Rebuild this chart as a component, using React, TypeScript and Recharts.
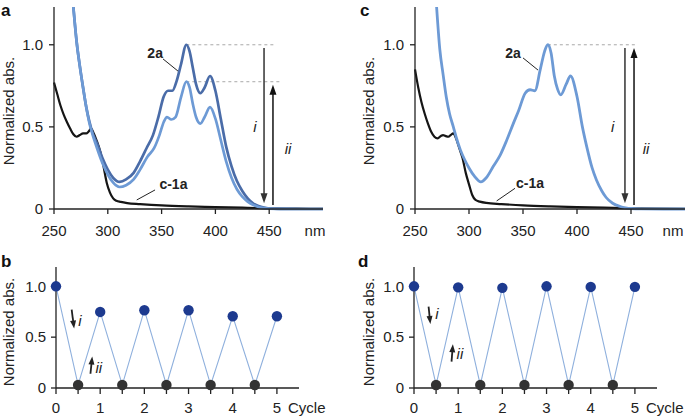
import { LineChart, Line, XAxis, YAxis, ReferenceLine, ReferenceDot } from "recharts";

const FONT = '"Liberation Sans", Arial, Helvetica, sans-serif';
const INK = "#222";
const DARK_BLUE = "#4a6ca8";
const LIGHT_BLUE = "#6d9ad5";
const BLACK = "#151515";

// ---- spectra, panel a ----
const c1aNmA = [250, 253, 256, 259, 262, 265, 268, 271, 274, 277, 280, 282, 284.5, 287, 290, 293, 296, 299, 302, 305, 308, 312, 318, 330, 350, 375, 400, 425, 450, 475, 500];
const c1aAbsA = [0.77, 0.7, 0.63, 0.575, 0.53, 0.49, 0.455, 0.44, 0.45, 0.46, 0.46, 0.47, 0.49, 0.46, 0.41, 0.35, 0.26, 0.16, 0.1, 0.065, 0.05, 0.043, 0.036, 0.03, 0.022, 0.016, 0.012, 0.008, 0.004, 0.002, 0.001];

const twoANmA = [268, 271, 274, 277, 280, 283, 286, 290, 295, 300, 305, 311, 317, 324, 330, 336, 342, 347, 352, 356, 360, 364, 368, 373, 376, 379, 382, 386, 390, 395, 400, 405, 410, 415, 420, 425, 430, 435, 440, 445, 450, 460, 480, 500];
const twoAAbsA = [1.23, 1.02, 0.87, 0.74, 0.62, 0.53, 0.46, 0.4, 0.31, 0.24, 0.19, 0.165, 0.18, 0.22, 0.29, 0.37, 0.45, 0.56, 0.685, 0.72, 0.72, 0.78, 0.88, 1.0, 0.96, 0.86, 0.76, 0.705, 0.74, 0.81, 0.72, 0.55, 0.38, 0.26, 0.17, 0.11, 0.065, 0.035, 0.018, 0.008, 0.003, 0.001, 0, 0];

const pssNmA = [268, 271, 274, 277, 280, 283, 286, 290, 295, 300, 305, 311, 317, 324, 330, 337, 343, 348, 352, 355, 359, 363, 368, 373, 376, 379, 382, 386, 390, 395, 400, 405, 410, 415, 420, 425, 430, 435, 440, 445, 450, 460, 480, 500];
const pssAbsA = [1.23, 1.02, 0.87, 0.74, 0.62, 0.52, 0.45, 0.37, 0.28, 0.21, 0.16, 0.134, 0.145, 0.18, 0.24, 0.32, 0.37, 0.45, 0.53, 0.56, 0.545, 0.56, 0.68, 0.775, 0.74, 0.64, 0.56, 0.52, 0.56, 0.62, 0.55, 0.42, 0.29, 0.19, 0.12, 0.075, 0.045, 0.025, 0.012, 0.005, 0.002, 0.001, 0, 0];

// ---- spectra, panel c ----
const c1aNmC = [250, 253, 256, 259, 262, 265, 268, 271, 274, 276, 278, 281, 283, 285.5, 288, 291, 294, 297, 300, 303, 306, 310, 316, 330, 350, 375, 400, 425, 450, 475, 500];
const c1aAbsC = [0.85, 0.74, 0.65, 0.58, 0.52, 0.47, 0.44, 0.43, 0.445, 0.45, 0.445, 0.44, 0.45, 0.46, 0.43, 0.37, 0.31, 0.22, 0.15, 0.085, 0.055, 0.045, 0.037, 0.03, 0.022, 0.016, 0.012, 0.008, 0.004, 0.002, 0.001];

const twoANmC = [270, 273, 276, 279, 282, 285.5, 288, 292, 296, 300, 305, 311, 316, 322.5, 329, 335, 341, 346, 352, 356.5, 361, 366, 370, 373, 376, 379, 382, 385, 390, 394, 400, 405, 409, 414, 418, 423, 427, 433, 440, 445, 450, 460, 480, 500];
const twoAAbsC = [1.23, 0.97, 0.82, 0.68, 0.58, 0.5, 0.44, 0.36, 0.3, 0.25, 0.2, 0.165, 0.19, 0.26, 0.33, 0.42, 0.52, 0.6, 0.705, 0.726, 0.72, 0.85, 0.96, 1.0, 0.95, 0.81, 0.73, 0.695, 0.76, 0.81, 0.685, 0.5, 0.38, 0.25, 0.177, 0.11, 0.07, 0.035, 0.015, 0.007, 0.003, 0.001, 0, 0];

const nmTicks = [250, 300, 350, 400, 450];
const absTicks = [0, 0.5, 1];

// ---- cycling, panels b and d ----
const cycles = [0, 0.5, 1, 1.5, 2, 2.5, 3, 3.5, 4, 4.5, 5];
const absCycleB = [1.0, 0.03, 0.748, 0.03, 0.765, 0.03, 0.765, 0.03, 0.706, 0.03, 0.706];
const absCycleD = [1.0, 0.03, 0.99, 0.03, 0.985, 0.03, 1.0, 0.03, 0.994, 0.03, 0.995];

const zip = (xs: number[], ys: number[]) => xs.map((nm, i) => ({ nm, v: ys[i] }));

const fmtAbs = (v: number) => (v === 0 ? "0" : v.toFixed(1));
const fmtCycle = (v: number) => (Number.isInteger(v) ? String(v) : "");

const axisLine = { stroke: INK, strokeWidth: 1.3 };
const tickStyle = { fill: INK, fontSize: 15, fontFamily: FONT };

function arrowShape(color: string, head = 10, half = 3.5, width = 1.5) {
  return (p: any) => {
    const { x1, y1, x2, y2 } = p;
    const len = Math.hypot(x2 - x1, y2 - y1) || 1;
    const ux = (x2 - x1) / len;
    const uy = (y2 - y1) / len;
    const bx = x2 - ux * head;
    const by = y2 - uy * head;
    return (
      <g>
        <line x1={x1} y1={y1} x2={x2 - ux * (head - 1)} y2={y2 - uy * (head - 1)} stroke={color} strokeWidth={width} />
        <polygon points={`${x2},${y2} ${bx - uy * half},${by + ux * half} ${bx + uy * half},${by - ux * half}`} fill={color} />
      </g>
    );
  };
}

function textShape(text: string, bold = false, italic = false, size = 15) {
  return (p: any) => (
    <text
      x={p.cx}
      y={p.cy}
      textAnchor="middle"
      dominantBaseline="central"
      fontFamily={FONT}
      fontSize={size}
      fontWeight={bold ? 700 : 400}
      fontStyle={italic ? "italic" : "normal"}
      fill={INK}
    >
      {text}
    </text>
  );
}

type Arrow = { x1: number; y1: number; x2: number; y2: number; color: string };
type Note = { x: number; y: number; text: string; bold?: boolean; italic?: boolean; size?: number };
type Seg = { x1: number; y1: number; x2: number; y2: number };

function SpectrumChart({
  axisW,
  right,
  series,
  arrows,
  dashes,
  leaders,
  notes,
}: {
  axisW: number;
  right: number;
  series: { data: { nm: number; v: number }[]; color: string; width: number }[];
  arrows: Arrow[];
  dashes: Seg[];
  leaders: Seg[];
  notes: Note[];
}) {
  return (
    <LineChart width={345} height={240} margin={{ top: 7, right, bottom: 0, left: 0 }}>
      <XAxis
        type="number"
        dataKey="nm"
        domain={[250, 500]}
        ticks={nmTicks}
        interval={0}
        height={31}
        tickSize={5}
        tickMargin={11}
        axisLine={axisLine}
        tickLine={axisLine}
        tick={tickStyle}
      />
      <YAxis
        type="number"
        domain={[0, 1.23]}
        ticks={absTicks}
        tickFormatter={fmtAbs}
        width={axisW}
        tickSize={5}
        tickMargin={6}
        axisLine={axisLine}
        tickLine={axisLine}
        tick={tickStyle}
      />
      {dashes.map((d, i) => (
        <ReferenceLine
          key={`dash-${i}`}
          segment={[{ x: d.x1, y: d.y1 }, { x: d.x2, y: d.y2 }]}
          stroke="#a8a8a8"
          strokeWidth={1}
          strokeDasharray="3 3"
        />
      ))}
      {series.map((s, i) => (
        <Line
          key={`s-${i}`}
          data={s.data}
          dataKey="v"
          type="monotone"
          stroke={s.color}
          strokeWidth={s.width}
          dot={false}
          isAnimationActive={false}
        />
      ))}
      {arrows.map((a, i) => (
        <ReferenceLine
          key={`arr-${i}`}
          segment={[{ x: a.x1, y: a.y1 }, { x: a.x2, y: a.y2 }]}
          shape={arrowShape(a.color)}
        />
      ))}
      {leaders.map((d, i) => (
        <ReferenceLine
          key={`lead-${i}`}
          segment={[{ x: d.x1, y: d.y1 }, { x: d.x2, y: d.y2 }]}
          stroke={INK}
          strokeWidth={1}
        />
      ))}
      {notes.map((n, i) => (
        <ReferenceDot key={`note-${i}`} x={n.x} y={n.y} r={1} shape={textShape(n.text, n.bold, n.italic, n.size)} />
      ))}
    </LineChart>
  );
}

function CycleChart({
  axisW,
  right,
  values,
  arrows,
  notes,
}: {
  axisW: number;
  right: number;
  values: number[];
  arrows: Arrow[];
  notes: Note[];
}) {
  const data = cycles.map((cycle, i) => ({ cycle, v: values[i] }));
  const renderDot = (p: any) => (
    <circle
      key={`dot-${p.index}`}
      cx={p.cx}
      cy={p.cy}
      r={5.2}
      fill={p.value > 0.5 ? "#1d3a8f" : "#333333"}
    />
  );
  return (
    <LineChart width={345} height={186} data={data} margin={{ top: 37, right, bottom: 0, left: 0 }}>
      <XAxis
        type="number"
        dataKey="cycle"
        domain={[0, 5.5]}
        ticks={cycles}
        interval={0}
        tickFormatter={fmtCycle}
        height={28}
        tickSize={6}
        tickMargin={8}
        axisLine={axisLine}
        tickLine={axisLine}
        tick={tickStyle}
      />
      <YAxis
        type="number"
        domain={[0, 1.19]}
        ticks={absTicks}
        tickFormatter={fmtAbs}
        width={axisW}
        tickSize={5}
        tickMargin={5}
        axisLine={axisLine}
        tickLine={axisLine}
        tick={tickStyle}
      />
      <Line
        dataKey="v"
        type="linear"
        stroke="#8fb0dd"
        strokeWidth={1.1}
        dot={renderDot}
        isAnimationActive={false}
      />
      {arrows.map((a, i) => (
        <ReferenceLine
          key={`arr-${i}`}
          segment={[{ x: a.x1, y: a.y1 }, { x: a.x2, y: a.y2 }]}
          shape={arrowShape(a.color, 8, 3, 1.8)}
        />
      ))}
      {notes.map((n, i) => (
        <ReferenceDot key={`note-${i}`} x={n.x} y={n.y} r={1} shape={textShape(n.text, n.bold, n.italic, n.size)} />
      ))}
    </LineChart>
  );
}

const panelLetter = { fontFamily: FONT, fontSize: 17, fontWeight: 700, fill: "#111" };
const plain = { fontFamily: FONT, fontSize: 15, fill: INK };

export default function App() {
  return (
    <div style={{ position: "absolute", left: 0, top: 0, width: 685, height: 416, overflow: "hidden", background: "#fff" }}>
      <div style={{ position: "absolute", left: 0, top: 0 }}>
        <SpectrumChart
          axisW={54}
          right={22}
          series={[
            { data: zip(c1aNmA, c1aAbsA), color: BLACK, width: 2.2 },
            { data: zip(twoANmA, twoAAbsA), color: DARK_BLUE, width: 2.7 },
            { data: zip(pssNmA, pssAbsA), color: LIGHT_BLUE, width: 2.7 },
          ]}
          dashes={[
            { x1: 373, y1: 1, x2: 455.5, y2: 1 },
            { x1: 373, y1: 0.775, x2: 460, y2: 0.775 },
          ]}
          arrows={[
            { x1: 445.2, y1: 0.98, x2: 445.2, y2: 0.035, color: "#333" },
            { x1: 453.5, y1: 0.025, x2: 453.5, y2: 0.757, color: "#111" },
          ]}
          leaders={[
            { x1: 351.3, y1: 0.914, x2: 365.2, y2: 0.84 },
            { x1: 343.9, y1: 0.116, x2: 326.9, y2: 0.055 },
          ]}
          notes={[
            { x: 344, y: 0.95, text: "2a", bold: true, size: 14 },
            { x: 361, y: 0.152, text: "c-1a", bold: true, size: 14 },
            { x: 436.8, y: 0.5, text: "i", italic: true },
            { x: 467.5, y: 0.37, text: "ii", italic: true },
          ]}
        />
      </div>
      <div style={{ position: "absolute", left: 340, top: 0 }}>
        <SpectrumChart
          axisW={75}
          right={0}
          series={[
            { data: zip(c1aNmC, c1aAbsC), color: BLACK, width: 2.2 },
            { data: zip(twoANmC, twoAAbsC), color: LIGHT_BLUE, width: 2.8 },
          ]}
          dashes={[{ x1: 373, y1: 1, x2: 456, y2: 1 }]}
          arrows={[
            { x1: 444.4, y1: 0.98, x2: 444.4, y2: 0.035, color: "#333" },
            { x1: 452.8, y1: 0.025, x2: 452.8, y2: 0.98, color: "#111" },
          ]}
          leaders={[
            { x1: 350, y1: 0.92, x2: 363.9, y2: 0.846 },
            { x1: 342.6, y1: 0.126, x2: 325.6, y2: 0.049 },
          ]}
          notes={[
            { x: 340.7, y: 0.95, text: "2a", bold: true, size: 14 },
            { x: 356.5, y: 0.158, text: "c-1a", bold: true, size: 14 },
            { x: 433, y: 0.5, text: "i", italic: true },
            { x: 463.9, y: 0.37, text: "ii", italic: true },
          ]}
        />
      </div>
      <div style={{ position: "absolute", left: 0, top: 230 }}>
        <CycleChart
          axisW={56}
          right={46}
          values={absCycleB}
          arrows={[
            { x1: 0.355, y1: 0.77, x2: 0.41, y2: 0.585, color: "#222" },
            { x1: 0.78, y1: 0.14, x2: 0.82, y2: 0.31, color: "#222" },
          ]}
          notes={[
            { x: 0.54, y: 0.66, text: "i", italic: true },
            { x: 0.97, y: 0.206, text: "ii", italic: true },
          ]}
        />
      </div>
      <div style={{ position: "absolute", left: 340, top: 230 }}>
        <CycleChart
          axisW={74}
          right={28}
          values={absCycleD}
          arrows={[
            { x1: 0.33, y1: 0.8, x2: 0.37, y2: 0.63, color: "#222" },
            { x1: 0.85, y1: 0.26, x2: 0.88, y2: 0.43, color: "#222" },
          ]}
          notes={[
            { x: 0.52, y: 0.735, text: "i", italic: true },
            { x: 1.04, y: 0.34, text: "ii", italic: true },
          ]}
        />
      </div>
      <svg width={685} height={416} style={{ position: "absolute", left: 0, top: 0, pointerEvents: "none" }}>
        <text x={1} y={16} {...panelLetter}>a</text>
        <text x={360} y={16} {...panelLetter}>c</text>
        <text x={1} y={267} {...panelLetter}>b</text>
        <text x={358} y={267} {...panelLetter}>d</text>
        <text x={13.5} y={111} textAnchor="middle" transform="rotate(-90 13.5 111)" {...plain}>Normalized abs.</text>
        <text x={373.5} y={111} textAnchor="middle" transform="rotate(-90 373.5 111)" {...plain}>Normalized abs.</text>
        <text x={13.5} y={332} textAnchor="middle" transform="rotate(-90 13.5 332)" {...plain}>Normalized abs.</text>
        <text x={373.5} y={332} textAnchor="middle" transform="rotate(-90 373.5 332)" {...plain}>Normalized abs.</text>
        <text x={315} y={236} textAnchor="middle" {...plain}>nm</text>
        <text x={673} y={236} textAnchor="middle" {...plain}>nm</text>
        <text x={288} y={412.5} {...plain}>Cycle</text>
        <text x={646} y={412.5} {...plain}>Cycle</text>
      </svg>
    </div>
  );
}
